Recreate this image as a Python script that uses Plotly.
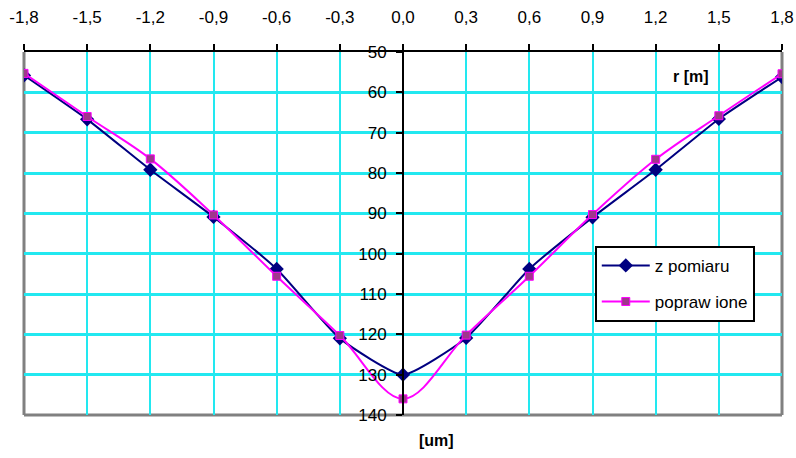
import plotly.graph_objects as go

# Radial positions [m] and deflection values [um]
r_m = [-1.8, -1.5, -1.2, -0.9, -0.6, -0.3, 0.0, 0.3, 0.6, 0.9, 1.2, 1.5, 1.8]
z_pomiaru = [55.8, 66.7, 79.2, 90.9, 103.8, 121.0, 130.0, 120.9, 103.8, 91.0, 79.2, 66.6, 56.2]
poprawione = [55.3, 66.0, 76.5, 90.4, 105.6, 120.3, 136.0, 120.2, 105.6, 90.3, 76.6, 65.8, 55.4]

x_ticks = [-1.8, -1.5, -1.2, -0.9, -0.6, -0.3, 0.0, 0.3, 0.6, 0.9, 1.2, 1.5, 1.8]
x_tick_text = ["-1,8", "-1,5", "-1,2", "-0,9", "-0,6", "-0,3", "0,0",
               "0,3", "0,6", "0,9", "1,2", "1,5", "1,8"]
y_ticks = [50, 60, 70, 80, 90, 100, 110, 120, 130, 140]

FONT = "Liberation Sans, Arial, sans-serif"

fig = go.Figure()

fig.add_trace(go.Scatter(
    x=r_m, y=z_pomiaru, name="z pomiaru", mode="lines+markers",
    line=dict(color="#000080", width=2, shape="spline", smoothing=0.5),
    marker=dict(symbol="diamond", size=11, color="#000080"),
    legendgroup="a",
))
fig.add_trace(go.Scatter(
    x=r_m, y=poprawione, name="popraw ione", mode="lines+markers",
    line=dict(color="#FF00FF", width=2, shape="spline", smoothing=1.0),
    marker=dict(symbol="square", size=8, color="#A0368C",
                line=dict(color="#FF00FF", width=1)),
    legendgroup="b",
))

fig.update_layout(
    width=796, height=458,
    margin=dict(l=24, r=14, t=52, b=43, autoexpand=False),
    paper_bgcolor="white", plot_bgcolor="white",
    font=dict(family=FONT, size=17, color="black"),
    showlegend=True,
    legend=dict(
        x=0.753, y=0.466, xanchor="left", yanchor="top",
        bgcolor="white", bordercolor="black", borderwidth=2,
        font=dict(family=FONT, size=17, color="black"),
        tracegroupgap=11, traceorder="grouped", itemwidth=48,
    ),
    xaxis=dict(
        range=[-1.8, 1.8], side="top", automargin=False,
        tickvals=x_ticks, ticktext=x_tick_text,
        showline=True, linecolor="black", linewidth=2,
        ticks="outside", ticklen=6, tickwidth=2, tickcolor="black",
        ticklabelstandoff=14,
        showgrid=True, gridcolor="#22E8F0", gridwidth=2,
        zeroline=False,
    ),
    yaxis=dict(
        range=[140, 50], tickvals=y_ticks, automargin=False,
        anchor="free", position=0.5,
        showline=True, linecolor="black", linewidth=2,
        ticks="outside", ticklen=6, tickwidth=2, tickcolor="black",
        ticklabelstandoff=6,
        showgrid=True, gridcolor="#22E8F0", gridwidth=3,
        zeroline=False,
    ),
)

# Gray frame on the left, right and bottom of the plotting area
for x0, y0, x1, y1 in [(0, 0, 0, 1), (1, 0, 1, 1), (0, 0, 1, 0)]:
    fig.add_shape(type="line", xref="paper", yref="paper",
                  x0=x0, y0=y0, x1=x1, y1=y1,
                  line=dict(color="#808080", width=3), layer="between")

fig.add_annotation(x=1.37, y=56, xref="x", yref="y", text="<b>r [m]</b>",
                   showarrow=False, font=dict(family=FONT, size=16, color="black"))
fig.add_annotation(x=0.16, y=-0.069, xref="x", yref="paper", text="<b>[um]</b>",
                   showarrow=False, yanchor="middle",
                   font=dict(family=FONT, size=16, color="black"))

fig.write_html("out.html")
